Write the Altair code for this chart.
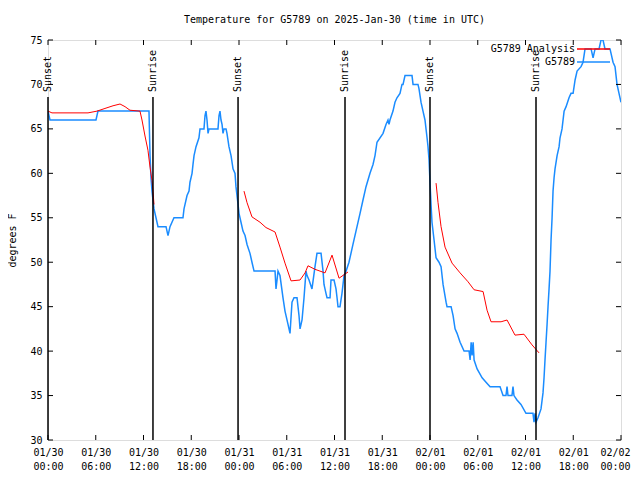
import altair as alt
import pandas as pd

# ---------------- data (hours since 2025-01-30 00:00 UTC) ----------------
obs_hours = [0.0, 0.25, 6.03, 6.28, 12.69, 12.82, 12.94, 13.07, 13.19, 13.32, 13.57, 13.82,
             14.83, 15.08, 15.33, 15.83, 16.96, 17.09, 17.47, 17.72, 17.84, 18.10, 18.22,
             18.35, 18.60, 18.97, 19.10, 19.60, 19.73, 19.85, 19.98, 20.11, 20.23, 21.36,
             21.49, 21.61, 21.74, 21.87, 21.99, 22.12, 22.37, 22.49, 22.74, 23.00, 23.25,
             23.50, 23.62, 23.75, 23.88, 24.00, 24.25, 24.50, 24.76, 25.01, 25.38, 25.63,
             25.89, 28.53, 28.65, 28.78, 28.90, 29.15, 29.53, 29.78, 30.16, 30.41, 30.66,
             30.91, 31.29, 31.54, 31.67, 31.92, 32.17, 32.42, 32.55, 32.80, 33.17, 33.55,
             33.80, 34.31, 34.56, 34.68, 34.93, 35.06, 35.44, 35.56, 35.94, 36.19, 36.32,
             36.44, 36.69, 36.94, 37.20, 37.45, 37.82, 38.32, 38.70, 39.21, 39.58, 39.96,
             40.46, 40.84, 41.09, 41.34, 42.10, 42.47, 42.72, 42.85, 42.97, 43.35, 43.60,
             43.85, 44.23, 44.48, 44.61, 44.86, 45.74, 45.87, 46.49, 46.62, 46.87, 47.12,
             47.37, 47.63, 47.75, 47.88, 48.00, 48.13, 48.25, 48.51, 48.76, 49.13, 49.39,
             49.64, 50.02, 50.14, 50.65, 50.90, 51.15, 51.40, 51.78, 52.28, 52.91, 53.04,
             53.17, 53.29, 53.42, 53.54, 53.92, 54.55, 55.04, 55.55, 56.80, 57.18, 57.55,
             57.68, 57.80, 58.30, 58.43, 58.55, 58.93, 59.43, 60.06, 60.94, 61.07, 61.20,
             61.32, 61.57, 61.95, 62.20, 62.33, 62.45, 62.58, 62.71, 62.83, 62.96, 63.08,
             63.21, 63.34, 63.46, 63.59, 63.71, 63.97, 64.22, 64.34, 64.59, 64.85, 65.10,
             65.47, 65.72, 65.98, 66.23, 66.48, 66.98, 67.23, 67.48, 68.24, 68.49, 68.74,
             69.24, 69.49, 69.74, 69.99, 70.62, 71.00, 71.25, 71.50, 71.75, 72.00]
obs_temps = [67, 66, 66, 67, 67, 62, 59.5, 58, 57, 56, 55, 54,
             54, 53, 54, 55, 55, 56, 57.5, 58, 59, 60, 61,
             62, 63, 64, 65, 65, 66.5, 67, 66, 64.5, 65, 65,
             66.5, 67, 66, 65.5, 64.5, 65, 65, 64.5, 63, 62, 60.5,
             60, 58.5, 57.5, 56.5, 55.5, 54.5, 53.5, 53, 52, 51, 50,
             49, 49, 47, 48, 49, 48.5, 46, 44.5, 43, 42, 45.5,
             46, 46, 44, 42.5, 43.5, 46, 49, 48.5, 48, 47, 49.5,
             51, 51, 49, 47.5, 46.5, 46, 46, 48, 48, 47, 46,
             45, 45, 46.5, 48.5, 49, 50, 52, 53.5, 55.5, 57, 58.5,
             60, 61, 62, 63.5, 64.5, 65.5, 66, 65.5, 66, 67, 68,
             68.5, 69, 70, 70, 71, 71, 70, 70, 69.5, 68, 67,
             66, 64, 63, 61.5, 59, 56.5, 54.5, 52.5, 50.5, 50, 49.5,
             47.5, 45.5, 45, 45, 44, 42.5, 42, 41, 40, 40, 39,
             41, 39.5, 41, 39, 38, 37, 36.5, 36, 36, 35, 35,
             36, 35, 35, 36, 35, 34.5, 34, 33, 33, 32, 33,
             32, 32.5, 33.5, 35.3, 37, 39, 41, 43, 45, 47, 49,
             52.5, 55, 58, 59.5, 60.5, 62, 63, 64, 65, 67, 67.5,
             68.5, 69, 69, 70.5, 71.5, 72, 72.5, 74, 74, 73, 74,
             74, 75, 75, 74, 74, 72.5, 72, 70, 69, 68]

ana_hours = [0.0, 0.50, 5.03, 6.16, 7.16, 8.17, 9.05, 9.68, 10.30, 11.56, 11.81, 12.19,
             12.56, 12.82, 13.07, 13.19, 13.32,
             24.63, 25.01, 25.63, 26.64, 27.39, 28.53, 29.15, 29.78, 30.54, 31.67, 32.30,
             32.67, 33.55, 34.81, 35.69, 36.57, 37.20, 37.70,
             48.76, 49.01, 49.39, 49.89, 50.77, 51.78, 52.78, 53.54, 54.67, 55.17, 55.67,
             56.93, 57.68, 58.68, 59.81, 60.82, 61.70]
ana_temps = [67, 66.8, 66.8, 67, 67.3, 67.6, 67.8, 67.5, 67.1, 67, 66, 64.2,
             62.6, 60.7, 59.2, 58, 56.5,
             58, 56.7, 55.1, 54.5, 53.9, 53.4, 51.7, 49.9, 47.9, 48, 48.8,
             49.6, 49.2, 48.8, 50.8, 48.2, 48.6, 48.9,
             58.9, 56.7, 54, 51.7, 49.9, 48.8, 47.8, 46.9, 46.7, 44.6, 43.3,
             43.3, 43.5, 41.8, 41.9, 40.7, 39.8]
ana_segment = [1] * 17 + [2] * 18 + [3] * 17

sun_hours = [0.0, 13.19, 23.88, 37.32, 48.00, 61.32]
sun_labels = ["Sunset", "Sunrise", "Sunset", "Sunrise", "Sunset", "Sunrise"]

x_tick_hours = [0, 6, 12, 18, 24, 30, 36, 42, 48, 54, 60, 66, 72]
y_ticks = [30, 35, 40, 45, 50, 55, 60, 65, 70, 75]

legend_names = ["G5789 Analysis", "G5789"]
legend_colors = ["#ff0000", "#1a8cff"]

TITLE = "Temperature for G5789 on 2025-Jan-30 (time in UTC)"
FONT = "DejaVu Sans Mono"

# ---------------- build tables ----------------
BASE = pd.Timestamp("2025-01-30T00:00:00", tz="UTC")


def iso(h):
    return (BASE + pd.Timedelta(hours=h)).strftime("%Y-%m-%dT%H:%M:%SZ")


def ms(h):
    return int((BASE + pd.Timedelta(hours=h)).value // 10**6)


obs = pd.DataFrame({"time": [iso(h) for h in obs_hours], "temp": obs_temps})
ana = pd.DataFrame({"time": [iso(h) for h in ana_hours], "temp": ana_temps, "seg": ana_segment})
sun = pd.DataFrame({"time": [iso(h) for h in sun_hours], "label": sun_labels})
xt = pd.DataFrame({"time": [iso(h) for h in x_tick_hours]})
yt = pd.DataFrame({"temp": y_ticks})

W, H = 573, 400

xscale = alt.Scale(type="utc", domain=[ms(0), ms(72)], nice=False)
yscale = alt.Scale(domain=[30, 75], nice=False, zero=False)

last_tick = ms(x_tick_hours[-1])
xaxis = alt.Axis(
    values=[ms(h) for h in x_tick_hours],
    labelExpr="[utcFormat(datum.value, '%m/%d'), utcFormat(datum.value, '%H:%M')]",
    ticks=False, domain=False, grid=False, labelFlush=False, labelOverlap=False,
    labelPadding=7, labelLineHeight=14, labelFont=FONT, labelFontSize=10,
    labelColor="black", title=None,
    labelOffset={"condition": {"test": f"time(datum.value) >= {last_tick}", "value": -6},
                 "value": 0},
)
yaxis = alt.Axis(
    values=y_ticks, ticks=False, domain=False, grid=False,
    labelPadding=6, labelFont=FONT, labelFontSize=10, labelColor="black",
    title="degrees F", titleFont=FONT, titleFontSize=10, titleFontWeight="normal",
    titleColor="black", titleX=-36, titleY=200, titleAngle=270,
    titleAlign="center", titleBaseline="middle",
)

X = alt.X("time:T", scale=xscale, axis=xaxis)
Y = alt.Y("temp:Q", scale=yscale, axis=yaxis)

blue = alt.Chart(obs).mark_line(color="#1a8cff", strokeWidth=1.5, clip=True).encode(x=X, y=Y)
red = alt.Chart(ana).mark_line(color="#ff0000", strokeWidth=1, clip=True).encode(
    x="time:T", y="temp:Q", detail="seg:N")

sun_rules = alt.Chart(sun).mark_rule(color="black", strokeWidth=1.5).encode(
    x="time:T", y=alt.value(57), y2=alt.value(H))
sun_text = alt.Chart(sun).mark_text(
    angle=270, align="left", baseline="middle", font=FONT, fontSize=10, color="black"
).encode(x="time:T", y=alt.value(52), text="label:N")

tick_bottom = alt.Chart(xt).mark_rule(color="black").encode(
    x="time:T", y=alt.value(H), y2=alt.value(H - 5))
tick_top = alt.Chart(xt).mark_rule(color="black").encode(
    x="time:T", y=alt.value(0), y2=alt.value(5))
tick_left = alt.Chart(yt).mark_rule(color="black").encode(
    y="temp:Q", x=alt.value(0), x2=alt.value(5))
tick_right = alt.Chart(yt).mark_rule(color="black").encode(
    y="temp:Q", x=alt.value(W), x2=alt.value(W - 5))

legend_layers = []
for i, (name, col) in enumerate(zip(legend_names, legend_colors)):
    ly = 9 + 13 * i
    row = pd.DataFrame({"name": [name]})
    legend_layers.append(
        alt.Chart(row).mark_text(align="right", baseline="middle", font=FONT,
                                 fontSize=10, color="black")
        .encode(text="name:N", x=alt.value(527), y=alt.value(ly)))
    legend_layers.append(
        alt.Chart(row).mark_rule(color=col, strokeWidth=1.5)
        .encode(x=alt.value(529), x2=alt.value(562), y=alt.value(ly)))

chart = alt.layer(
    blue, red, sun_rules, sun_text, tick_bottom, tick_top, tick_left, tick_right,
    *legend_layers
).properties(
    width=W, height=H,
    title=alt.TitleParams(TITLE, font=FONT, fontSize=10, fontWeight="normal",
                          color="black", offset=10, anchor="middle"),
    autosize=alt.AutoSizeParams(type="none"),
    padding={"left": 40, "top": 32, "right": 11, "bottom": 32},
).configure_view(stroke="black", strokeWidth=1).configure(background="white")

chart.save("out.html", embed_options={"renderer": "svg", "actions": False})
